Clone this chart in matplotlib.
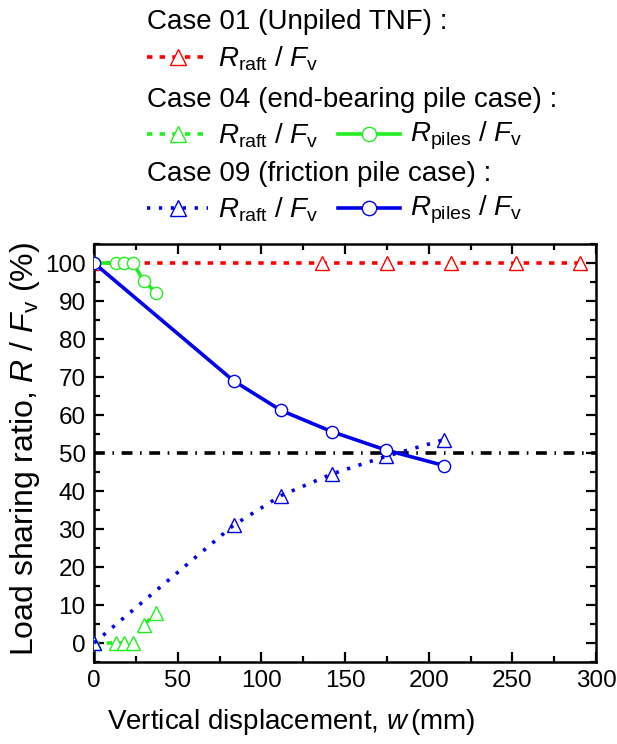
import matplotlib
matplotlib.use("Agg")
import matplotlib.pyplot as plt
from matplotlib.lines import Line2D
from matplotlib.ticker import MultipleLocator

plt.rcParams['font.family'] = ['Liberation Sans', 'DejaVu Sans']
plt.rcParams['mathtext.fontset'] = 'custom'
plt.rcParams['mathtext.rm'] = 'Liberation Sans'
plt.rcParams['mathtext.it'] = 'Liberation Sans:italic'
plt.rcParams['mathtext.bf'] = 'Liberation Sans:bold'

# ---- data ----
c01_w = [0, 136.3, 175.0, 213.6, 252.2, 290.7]
c01_raft = [100, 100, 100, 100, 100, 100]

c04_w = [0, 13.4, 18.1, 23.3, 29.7, 37.1]
c04_raft = [0, 0, 0, 0, 4.7, 7.8]
c04_piles = [100, 100, 100, 100, 95.3, 92.2]

c09_w = [0, 83.4, 111.8, 142.3, 174.3, 209.2]
c09_raft = [0, 31.0, 38.8, 44.5, 49.1, 53.5]
c09_piles = [100, 69.0, 61.2, 55.6, 50.8, 46.7]

ref_line = 50

W, H = 617, 744
fig = plt.figure(figsize=(W / 100, H / 100), dpi=100)
ax = fig.add_axes([94 / W, 1 - 662 / H, (596 - 94) / W, (662 - 244) / H])

RED, GREEN, BLUE = '#ff0000', '#22ee22', '#0000ee'
lw = 2.6
ms_c, ms_t = 8.8, 9.8
dot_pat = (0.9, 2.4)
dash_pat = (1.5, 2.0)

ax.axhline(ref_line, color='black', lw=lw, dashes=(3.0, 2.1, 0.45, 2.1), zorder=1)

ax.plot(c01_w, c01_raft, color=RED, lw=lw, dashes=dash_pat, marker='^', ms=ms_t,
        mfc='white', mec=RED, mew=1.0, zorder=2)
ax.plot(c04_w, c04_piles, color=GREEN, lw=lw, marker='o', ms=ms_c,
        mfc='white', mec=GREEN, mew=1.0, zorder=3)
ax.plot(c04_w, c04_raft, color=GREEN, lw=lw, dashes=dash_pat, marker='^', ms=ms_t,
        mfc='white', mec=GREEN, mew=1.0, zorder=3)
ax.plot(c09_w, c09_raft, color=BLUE, lw=lw, dashes=dot_pat, marker='^', ms=ms_t,
        mfc='none', mec=BLUE, mew=1.0, zorder=4)
ax.plot(c09_w, c09_piles, color=BLUE, lw=lw, marker='o', ms=ms_c,
        mfc='white', mec=BLUE, mew=1.0, zorder=4)

ax.set_xlim(0, 300)
ax.set_ylim(-5, 105)
ax.xaxis.set_major_locator(MultipleLocator(50))
ax.xaxis.set_minor_locator(MultipleLocator(25))
ax.yaxis.set_major_locator(MultipleLocator(10))
ax.yaxis.set_minor_locator(MultipleLocator(5))
ax.tick_params(which='both', direction='in', top=True, right=True, width=1.6,
               labelsize=17.5, pad=6)
ax.tick_params(which='major', length=7)
ax.tick_params(which='minor', length=4)
for s in ax.spines.values():
    s.set_linewidth(1.8)

ax.set_xlabel('Vertical displacement, $w\\,$(mm)', fontsize=20, va='center')
ax.xaxis.set_label_coords((291 - 94) / 502, -(722 - 662) / 418)
ax.set_ylabel('Load sharing ratio, $R$ / $F_\\mathrm{v}$ (%)', fontsize=23, va='center')
ax.yaxis.set_label_coords(-(94 - 25) / 502, 0.51)

# ---- legend (manual, pixel positions) ----
def fx(px):
    return px / W

def fy(py):
    return 1 - py / H

def handle(x0, x1, y, color, marker, dashes=None):
    kw = dict(color=color, lw=lw, transform=fig.transFigure)
    if dashes is not None:
        kw['dashes'] = dashes
    fig.add_artist(Line2D([fx(x0), fx(x1)], [fy(y), fy(y)], **kw))
    fig.add_artist(Line2D([fx((x0 + x1) / 2)], [fy(y)], marker=marker,
                          ms=ms_t + 1.5 if marker == '^' else ms_c + 1.5,
                          mfc='white', mec=color, mew=1.0, lw=0,
                          transform=fig.transFigure))

fs = 20
raft_txt = '$R_\\mathrm{raft}$ / $F_\\mathrm{v}$'
piles_txt = '$R_\\mathrm{piles}$ / $F_\\mathrm{v}$'

fig.text(fx(147), fy(22), 'Case 01 (Unpiled TNF) :', fontsize=fs, va='center')
handle(147, 208, 57, RED, '^', dash_pat)
fig.text(fx(218), fy(59), raft_txt, fontsize=fs, va='center')

fig.text(fx(147), fy(100), 'Case 04 (end-bearing pile case) :', fontsize=fs, va='center')
handle(147, 208, 134, GREEN, '^', dash_pat)
fig.text(fx(218), fy(136), raft_txt, fontsize=fs, va='center')
handle(338, 400, 134, GREEN, 'o')
fig.text(fx(410), fy(136), piles_txt, fontsize=fs, va='center')

fig.text(fx(147), fy(174), 'Case 09 (friction pile case) :', fontsize=fs, va='center')
handle(147, 208, 208, BLUE, '^', dot_pat)
fig.text(fx(218), fy(210), raft_txt, fontsize=fs, va='center')
handle(338, 400, 208, BLUE, 'o')
fig.text(fx(410), fy(210), piles_txt, fontsize=fs, va='center')

fig.savefig('out.png', dpi=100)
